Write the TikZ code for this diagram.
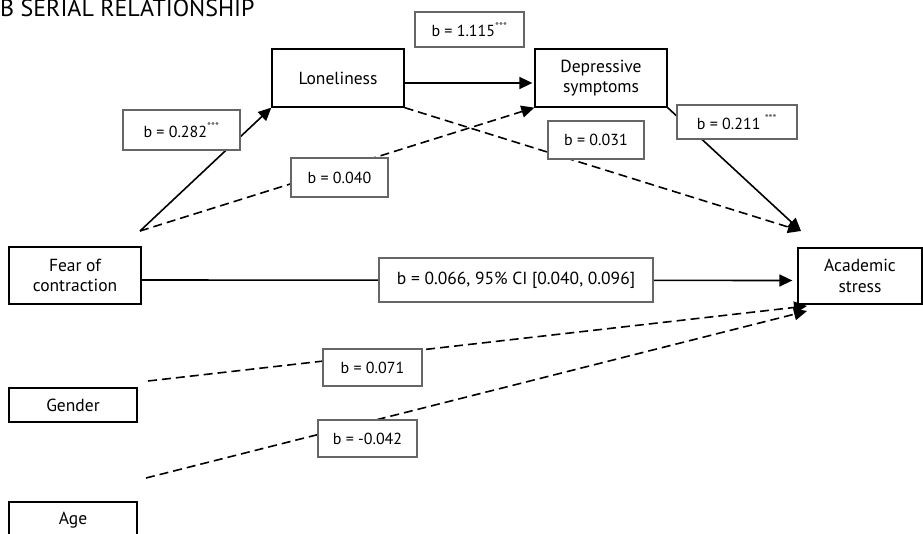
\documentclass[tikz,border=0pt]{standalone}
\usepackage{fontspec}
\setmainfont{PT Sans}
\usetikzlibrary{arrows.meta}
\begin{document}
\begin{tikzpicture}[x=1pt,y=-1pt,
  var/.style={draw=black, line width=1.3pt, fill=white, inner sep=0pt, align=center, font=\fontsize{17.5}{20.5}\selectfont},
  coef/.style={draw=black!60, line width=1.3pt, fill=white, inner sep=0pt, font=\fontsize{16}{19}\selectfont},
  bigcoef/.style={coef, font=\fontsize{17.5}{21}\selectfont},
  pth/.style={line width=1.6pt, -{Triangle[length=13pt,width=12pt]}},
  dpth/.style={pth, dash pattern=on 9pt off 5pt},
]
\useasboundingbox (0,0) rectangle (923,534);
\newcommand\sstars{\textsuperscript{\textcolor{black!75}{***}}}

\node[anchor=base west, inner sep=0pt, font=\fontsize{24}{27}\selectfont] (title) at (0,17) {B SERIAL RELATIONSHIP};

% variables
\node[var, minimum width=132pt, minimum height=57pt] (fear) at (75,275.5) {Fear of\\contraction};
\node[var, minimum width=132pt, minimum height=58pt] (lone) at (338,78) {Loneliness};
\node[var, minimum width=132pt, minimum height=58pt] (dep) at (601,78) {Depressive\\symptoms};
\node[var, minimum width=124pt, minimum height=56pt] (acad) at (860,276) {Academic\\stress};
\node[var, minimum width=128pt, minimum height=34pt] (gender) at (73,405) {Gender};
\node[var, minimum width=128pt, minimum height=36pt] (age) at (73,520) {Age};

% free ends
\coordinate (fa) at (140,231);
\coordinate (ga) at (148,381);
\coordinate (aa) at (146,478);
\coordinate (ain) at (801,231);
\coordinate (ain2) at (807,306);
\coordinate (ain3) at (807,311);

% connectors
\draw[pth] (fa) -- (lone.south west);
\draw[dpth] (fa) -- (dep.south west);
\draw[pth, shorten >=2pt] ([yshift=-5pt]lone.east) -- ([yshift=-5pt]dep.west);
\draw[dpth] (lone.south east) -- (ain);
\draw[pth] (dep.south east) -- (ain);
\draw[pth, shorten >=5pt] ([yshift=-4.5pt]fear.east) -- ([yshift=-4.5pt]acad.west);
\draw[dpth] (ga) -- (ain2);
\draw[dpth] (aa) -- (ain3);

% coefficients
\node[coef, minimum width=117pt, minimum height=40pt] (c282) at (181.5,130) {b = 0.282\sstars};
\node[coef, minimum width=97pt, minimum height=39pt] (c040) at (339.5,177.5) {b = 0.040};
\node[coef, minimum width=109pt, minimum height=35pt] (c115) at (469.5,29.5) {b = 1.115\sstars};
\node[coef, minimum width=96pt, minimum height=38pt] (c031) at (596,140) {b = 0.031};
\node[coef, minimum width=120pt, minimum height=34pt] (c211) at (737,122) {b = 0.211 \sstars};
\node[bigcoef, minimum width=274pt, minimum height=44pt] (c066) at (516,280) {b = 0.066, 95\% CI [0.040, 0.096]};
\node[coef, minimum width=99pt, minimum height=37pt] (c071) at (372.5,367.5) {b = 0.071};
\node[coef, minimum width=99pt, minimum height=37pt] (c042) at (367.5,438.5) {b = -0.042};
\end{tikzpicture}
\end{document}
